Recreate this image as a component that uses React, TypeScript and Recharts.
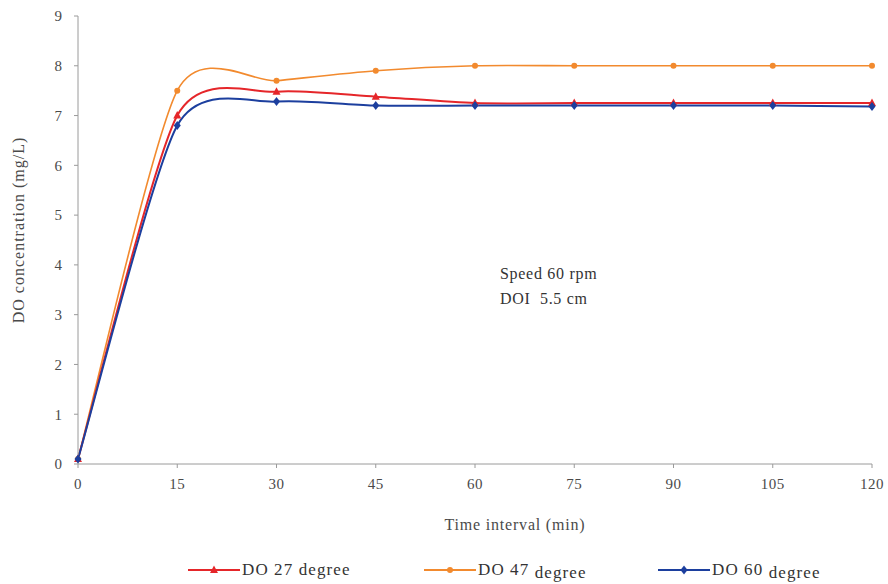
import React from "react";
import { LineChart, Line, XAxis, YAxis } from "recharts";

// time points (min)
const TIMES = [0, 15, 30, 45, 60, 75, 90, 105, 120];

// DO concentration (mg/L) per blade angle
const DO_27 = [0.1, 7.0, 7.48, 7.38, 7.25, 7.25, 7.25, 7.25, 7.25];
const DO_47 = [0.1, 7.5, 7.7, 7.9, 8.0, 8.0, 8.0, 8.0, 8.0];
const DO_60 = [0.1, 6.8, 7.28, 7.2, 7.2, 7.2, 7.2, 7.2, 7.18];

const Y_TICKS = [0, 1, 2, 3, 4, 5, 6, 7, 8, 9];

const data = TIMES.map((t, i) => ({
  t,
  d27: DO_27[i],
  d47: DO_47[i],
  d60: DO_60[i],
}));

const RED = "#e5262a";
const ORANGE = "#f28a2e";
const BLUE = "#1c3f9e";
const FONT = "'Liberation Serif', 'Times New Roman', serif";
const TEXT = "#4a4a4a";

// spreadsheet-style smoothed line (bezier through every point)
const smoothCurve = (context: any) => {
  let pts: number[][] = [];
  const k = 0.12;
  return {
    areaStart() {},
    areaEnd() {},
    lineStart() {
      pts = [];
    },
    point(x: number, y: number) {
      pts.push([+x, +y]);
    },
    lineEnd() {
      if (!pts.length) return;
      context.moveTo(pts[0][0], pts[0][1]);
      for (let i = 0; i < pts.length - 1; i++) {
        const p0 = pts[i - 1] || pts[i];
        const p1 = pts[i];
        const p2 = pts[i + 1];
        const p3 = pts[i + 2] || pts[i + 1];
        context.bezierCurveTo(
          p1[0] + (p2[0] - p0[0]) * k,
          p1[1] + (p2[1] - p0[1]) * k,
          p2[0] - (p3[0] - p1[0]) * k,
          p2[1] - (p3[1] - p1[1]) * k,
          p2[0],
          p2[1],
        );
      }
    },
  };
};

const Triangle = (props: any) => {
  const { cx, cy } = props;
  if (cx == null || cy == null) return null;
  return (
    <path
      d={`M${cx},${cy - 4.5} L${cx + 4},${cy + 3} L${cx - 4},${cy + 3} Z`}
      fill={RED}
    />
  );
};

const Circle = (props: any) => {
  const { cx, cy } = props;
  if (cx == null || cy == null) return null;
  return <circle cx={cx} cy={cy} r={3} fill={ORANGE} />;
};

const Diamond = (props: any) => {
  const { cx, cy } = props;
  if (cx == null || cy == null) return null;
  return (
    <path
      d={`M${cx},${cy - 4.5} L${cx + 3.5},${cy} L${cx},${cy + 4.5} L${cx - 3.5},${cy} Z`}
      fill={BLUE}
    />
  );
};

const LegendItem = ({
  color,
  shape,
  label,
  sub,
}: {
  color: string;
  shape: "tri" | "dot" | "dia";
  label: string;
  sub: boolean;
}) => (
  <div style={{ display: "flex", alignItems: "center", whiteSpace: "nowrap" }}>
    <svg width={52} height={12}>
      <line x1={0} y1={6} x2={52} y2={6} stroke={color} strokeWidth={2} />
      {shape === "tri" && <path d="M26,1.5 L30,9 L22,9 Z" fill={color} />}
      {shape === "dot" && <circle cx={26} cy={6} r={3} fill={color} />}
      {shape === "dia" && <path d="M26,1.5 L29.5,6 L26,10.5 L22.5,6 Z" fill={color} />}
    </svg>
    <span style={{ marginLeft: 2 }}>
      {label}{" "}
      <span style={{ position: "relative", top: sub ? 3 : 0 }}>degree</span>
    </span>
  </div>
);

export default function App() {
  return (
    <div
      style={{
        position: "relative",
        width: 888,
        height: 584,
        background: "#fff",
        fontFamily: FONT,
        color: TEXT,
      }}
    >
      <style>{`body{margin:0}`}</style>
      <LineChart
        width={888}
        height={540}
        data={data}
        margin={{ top: 16, right: 16, bottom: 6, left: 0 }}
      >
        <XAxis
          dataKey="t"
          type="number"
          domain={[0, 120]}
          ticks={TIMES}
          stroke="#9a9a9a"
          tickSize={4}
          tick={{ fill: TEXT, fontSize: 15, fontFamily: FONT, letterSpacing: 0.5, dy: 8 }}
          height={70}
          label={{
            value: "Time interval (min)",
            position: "insideBottom",
            offset: 4,
            dx: 40,
            style: { fill: TEXT, fontSize: 16, fontFamily: FONT, letterSpacing: 0.8 },
          }}
        />
        <YAxis
          type="number"
          domain={[0, 9]}
          ticks={Y_TICKS}
          stroke="#9a9a9a"
          tickSize={4}
          width={78}
          tick={{ fill: TEXT, fontSize: 15, fontFamily: FONT, dx: -10 }}
          label={{
            value: "DO concentration (mg/L)",
            angle: -90,
            position: "insideLeft",
            offset: 18,
            dy: -10,
            style: {
              fill: TEXT,
              fontSize: 16,
              fontFamily: FONT,
              letterSpacing: 1,
              textAnchor: "middle",
            },
          }}
        />
        <Line
          type={smoothCurve as any}
          dataKey="d47"
          stroke={ORANGE}
          strokeWidth={1.6}
          dot={<Circle />}
          activeDot={false}
          isAnimationActive={false}
        />
        <Line
          type={smoothCurve as any}
          dataKey="d27"
          stroke={RED}
          strokeWidth={2}
          dot={<Triangle />}
          activeDot={false}
          isAnimationActive={false}
        />
        <Line
          type={smoothCurve as any}
          dataKey="d60"
          stroke={BLUE}
          strokeWidth={2}
          dot={<Diamond />}
          activeDot={false}
          isAnimationActive={false}
        />
      </LineChart>

      <div
        style={{
          position: "absolute",
          left: 500,
          top: 261,
          fontSize: 16,
          letterSpacing: 0.7,
          lineHeight: "25px",
          color: "#333",
        }}
      >
        <div>Speed 60 rpm</div>
        <div>DOI&nbsp; 5.5 cm</div>
      </div>

      <div
        style={{
          position: "absolute",
          top: 560,
          left: 0,
          width: 888,
          fontSize: 17,
          letterSpacing: 1.1,
          color: "#333",
        }}
      >
        <div style={{ position: "absolute", left: 188 }}>
          <LegendItem color={RED} shape="tri" label="DO 27" sub={false} />
        </div>
        <div style={{ position: "absolute", left: 424 }}>
          <LegendItem color={ORANGE} shape="dot" label="DO 47" sub={true} />
        </div>
        <div style={{ position: "absolute", left: 658 }}>
          <LegendItem color={BLUE} shape="dia" label="DO 60" sub={true} />
        </div>
      </div>
    </div>
  );
}
